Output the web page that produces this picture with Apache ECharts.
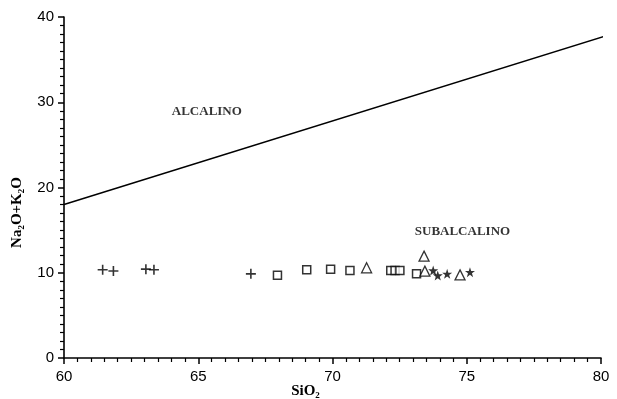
<!DOCTYPE html>
<html>
<head>
<meta charset="utf-8">
<script src="https://cdn.jsdelivr.net/npm/echarts@6/dist/echarts.min.js"></script>
<style>
  html, body { margin: 0; padding: 0; background: #fff; }
  #chart { width: 617px; height: 399px; }
</style>
</head>
<body>
<div id="chart"></div>
<script>
// boundary line alcalino / subalcalino
const boundary = [[60, 18], [80.3, 37.9]];

// samples (SiO2, Na2O+K2O) by symbol group
const crosses = [[61.44, 10.35], [61.84, 10.2], [63.05, 10.42], [63.35, 10.35], [66.96, 9.87]];
const squares = [[67.95, 9.72], [69.04, 10.35], [69.93, 10.42], [70.65, 10.27],
  [72.17, 10.27], [72.33, 10.27], [72.51, 10.27], [73.13, 9.87]];
const triangles = [[71.27, 10.58], [73.41, 11.95], [73.44, 10.19], [74.75, 9.75]];
const stars = [[73.75, 10.27], [73.92, 9.67], [74.27, 9.87], [75.12, 10.07]];

const fieldLabels = [
  { name: 'ALCALINO', value: [65.32, 28.9] },
  { name: 'SUBALCALINO', value: [74.84, 14.8] }
];

const xTicks = { min: 60, max: 80, interval: 5 };
const yTicks = { min: 0, max: 40, interval: 10 };

const PLUS = 'path://M4.2 0H5.8V4.2H10V5.8H5.8V10H4.2V5.8H0V4.2H4.2Z';
const STAR = 'path://M5 0L6.2 3.6H10L7 5.9L8.1 9.5L5 7.3L1.9 9.5L3 5.9L0 3.6H3.8Z';

const chart = echarts.init(document.getElementById('chart'), null, { renderer: 'canvas' });

const axisCommon = {
  axisLine: { show: true, onZero: false, lineStyle: { color: '#000', width: 1.6 } },
  axisTick: { show: true, inside: false, length: 6, lineStyle: { color: '#000', width: 1.5 } },
  minorTick: { show: true, splitNumber: 10, length: 4, lineStyle: { color: '#000', width: 1.2 } },
  splitLine: { show: false },
  axisLabel: { color: '#000', fontSize: 15, fontFamily: 'Liberation Sans, Arial, sans-serif' }
};

const nameStyle = {
  color: '#000', fontSize: 15, fontWeight: 'bold',
  fontFamily: 'Liberation Serif, Times New Roman, serif'
};

chart.setOption({
  animation: false,
  backgroundColor: '#fff',
  grid: { left: 64, right: 16, top: 17, bottom: 41, outerBoundsMode: 'none' },
  xAxis: {
    type: 'value',
    ...xTicks,
    ...axisCommon,
    axisLabel: { ...axisCommon.axisLabel, margin: 11 },
    name: 'SiO₂',
    nameLocation: 'middle',
    nameGap: 26,
    nameMoveOverlap: false,
    nameTextStyle: { ...nameStyle, padding: [0, 54, 0, 0] }
  },
  yAxis: {
    type: 'value',
    ...yTicks,
    ...axisCommon,
    axisLabel: { ...axisCommon.axisLabel, margin: 10 },
    name: 'Na₂O+K₂O',
    nameLocation: 'middle',
    nameGap: 39,
    nameMoveOverlap: false,
    nameTextStyle: { ...nameStyle, padding: [0, 50, 0, 0] }
  },
  series: [
    {
      type: 'line',
      data: boundary,
      symbol: 'none',
      lineStyle: { color: '#000', width: 1.5 },
      clip: false
    },
    {
      type: 'scatter',
      data: crosses,
      symbol: PLUS,
      symbolSize: 10,
      itemStyle: { color: '#000' }
    },
    {
      type: 'scatter',
      data: squares,
      symbol: 'rect',
      symbolSize: 8,
      itemStyle: { color: '#fff', borderColor: '#000', borderWidth: 1.5 }
    },
    {
      type: 'scatter',
      data: triangles,
      symbol: 'triangle',
      symbolSize: 10,
      itemStyle: { color: '#fff', borderColor: '#000', borderWidth: 1.3 }
    },
    {
      type: 'scatter',
      data: stars,
      symbol: STAR,
      symbolSize: 10,
      itemStyle: { color: '#000' }
    },
    {
      type: 'scatter',
      data: fieldLabels,
      symbolSize: 0,
      label: {
        show: true,
        position: 'inside',
        formatter: '{b}',
        color: '#000',
        fontSize: 13,
        fontWeight: 'bold',
        fontFamily: 'Liberation Serif, Times New Roman, serif'
      }
    }
  ]
});
</script>
</body>
</html>
